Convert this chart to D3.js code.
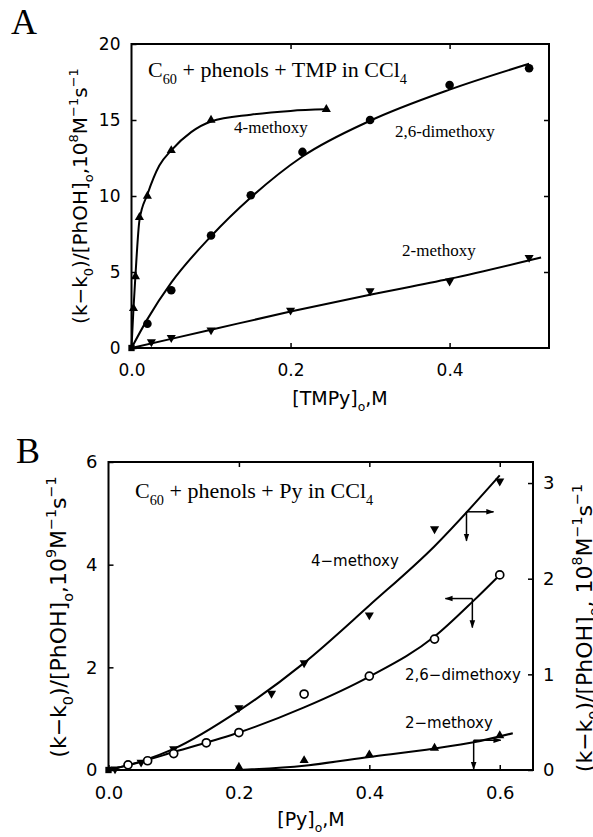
<!DOCTYPE html>
<html>
<head>
<meta charset="utf-8">
<title>C60 + phenols</title>
<script src="https://d3js.org/d3.v7.min.js"></script>
<style>
  body { margin: 0; background: #fff; }
  .tick text { font-family: 'DejaVu Sans', sans-serif; fill: #000; }
  .tick line { stroke: #000; stroke-width: 1.5; }
  .serif { font-family: 'Liberation Serif', 'Times New Roman', serif; }
  .sans { font-family: 'DejaVu Sans', sans-serif; }
</style>
</head>
<body>
<svg width="593" height="837"></svg>
<script>

// ---- panel A data (TMPy) ----
const aXTicks = [0, 0.2, 0.4];
const aYTicks = [0, 5, 10, 15, 20];
const a4Pts  = [[0.0025, 2.6], [0.005, 4.7], [0.01, 8.6], [0.02, 10.0], [0.05, 13.0], [0.1, 15.0], [0.245, 15.7]];
const a4Fit  = [[0, 0], [0.0025, 2.6], [0.005, 4.8], [0.01, 8.4], [0.02, 10.1], [0.035, 12.0], [0.05, 13.0], [0.075, 14.2], [0.1, 14.9], [0.15, 15.35], [0.2, 15.6], [0.245, 15.7]];
const a26Pts = [[0.02, 1.6], [0.05, 3.8], [0.1, 7.4], [0.15, 10.05], [0.215, 12.9], [0.3, 15.0], [0.4, 17.3], [0.5, 18.4]];
const a26Fit = [[0, 0], [0.02, 1.9], [0.05, 4.3], [0.1, 7.35], [0.15, 9.9], [0.215, 12.6], [0.3, 14.95], [0.4, 17.0], [0.5, 18.7]];
const a2Pts  = [[0.025, 0.4], [0.05, 0.68], [0.1, 1.18], [0.2, 2.48], [0.3, 3.75], [0.4, 4.4], [0.5, 5.95]];
const a2Fit  = [[0, 0], [0.1, 1.2], [0.2, 2.4], [0.3, 3.5], [0.4, 4.55], [0.515, 5.95]];

// ---- panel B data (Py) ----
const bXTicks  = [0, 0.2, 0.4, 0.6];
const bYTicks  = [0, 2, 4, 6];
const bYRTicks = [0, 1, 2, 3];
// 4-methoxy and 2-methoxy are read on the right axis, 2,6-dimethoxy on the left one
const b4Pts  = [[0.01, 0.01], [0.05, 0.08], [0.1, 0.22], [0.2, 0.65], [0.25, 0.8], [0.3, 1.12], [0.4, 1.62], [0.5, 2.52], [0.6, 3.02]];
const b4Fit  = [[0, 0], [0.05, 0.09], [0.1, 0.22], [0.2, 0.62], [0.3, 1.12], [0.4, 1.72], [0.5, 2.34], [0.6, 3.08]];
const b26Pts = [[0.03, 0.1], [0.06, 0.18], [0.1, 0.32], [0.15, 0.53], [0.2, 0.73], [0.3, 1.48], [0.4, 1.83], [0.5, 2.55], [0.6, 3.8]];
const b26Fit = [[0, 0], [0.05, 0.16], [0.1, 0.35], [0.2, 0.73], [0.3, 1.22], [0.4, 1.82], [0.5, 2.6], [0.56, 3.3], [0.6, 3.8]];
const b2Pts  = [[0.2, 0.03], [0.3, 0.1], [0.4, 0.16], [0.5, 0.23], [0.6, 0.36]];
const b2Fit  = [[0.2, 0], [0.3, 0.045], [0.4, 0.135], [0.5, 0.225], [0.56, 0.29], [0.62, 0.385]];
// axis-pointer arrows (corner on the curve, left-axis units)
const bArrowX   = [0.549, 0.558, 0.56];
const bArrowY   = [5.03, 3.34, 0.58];
const bArrowDir = ['right', 'left', 'right'];

const origin = [[0, 0]];

var svg = d3.select("svg");
svg.append("rect").attr("width", 593).attr("height", 837).attr("fill", "#fff");

svg.append("defs").append("marker")
    .attr("id", "arr")
    .attr("viewBox", "0 0 10 10")
    .attr("refX", 9).attr("refY", 5)
    .attr("markerWidth", 8).attr("markerHeight", 8)
    .attr("markerUnits", "userSpaceOnUse")
    .attr("orient", "auto")
  .append("path")
    .attr("d", "M0,1.5L10,5L0,8.5Z")
    .attr("fill", "#000");

// text with sub / superscripts: parts = [[string, 'n'|'sub'|'sup'], ...]
function rich(sel, parts, size) {
    var shift = 0;
    parts.forEach(function (p) {
        var t = sel.append("tspan").text(p[0]);
        var target = p[1] === "sub" ? size * 0.3 : p[1] === "sup" ? -size * 0.45 : 0;
        t.attr("dy", target - shift);
        shift = target;
        if (p[1] !== "n") t.style("font-size", (size * 0.65) + "px");
    });
}

function ylabelParts(exp, space) {
    return [["(k−k", "n"], ["0", "sub"], [")/[PhOH]", "n"], ["o", "sub"], [space ? ", 10" : ",10", "n"],
            [exp, "sup"], ["M", "n"], ["−1", "sup"], ["s", "n"], ["−1", "sup"]];
}

function drawMarks(g, pts, x, y, kind) {
    var sel = g.append("g").selectAll("path").data(pts).enter();
    if (kind === "dot" || kind === "ring") {
        sel.append("circle")
            .attr("cx", d => x(d[0]))
            .attr("cy", d => y(d[1]))
            .attr("r", kind === "dot" ? 4.3 : 4)
            .attr("fill", kind === "dot" ? "#000" : "#fff")
            .attr("stroke", "#000")
            .attr("stroke-width", kind === "dot" ? 0 : 1.7);
    } else {
        var type = kind === "sq" ? d3.symbolSquare : d3.symbolTriangle;
        sel.append("path")
            .attr("d", d3.symbol().type(type).size(kind === "sq" ? 40 : 36))
            .attr("transform", d => "translate(" + x(d[0]) + "," + y(d[1]) + ")" + (kind === "itri" ? " rotate(180)" : ""))
            .attr("fill", "#000");
    }
}

function drawFit(g, pts, x, y) {
    var line = d3.line()
        .x(d => x(d[0]))
        .y(d => y(d[1]))
        .curve(d3.curveMonotoneX);
    g.append("path")
        .datum(pts)
        .attr("d", line)
        .attr("fill", "none")
        .attr("stroke", "#000")
        .attr("stroke-width", 2);
}

function frame(g, x, y, xt, yt, fs, yRight) {
    var x0 = x.range()[0], x1 = x.range()[1], y0 = y.range()[0], y1 = y.range()[1];

    g.append("g")
        .attr("transform", "translate(0," + y0 + ")")
        .call(d3.axisBottom(x).tickValues(xt).tickSize(-5).tickPadding(16).tickFormat(d3.format(".1f")))
        .style("font-size", fs + "px")
        .call(a => a.select(".domain").remove());
    g.append("g")
        .attr("transform", "translate(0," + y1 + ")")
        .call(d3.axisTop(x).tickValues(xt.slice(1)).tickSize(-5).tickFormat(""))
        .call(a => a.select(".domain").remove());
    g.append("g")
        .attr("transform", "translate(" + x0 + ",0)")
        .call(d3.axisLeft(y).tickValues(yt).tickSize(-5).tickPadding(11).tickFormat(d3.format("d")))
        .style("font-size", fs + "px")
        .call(a => a.select(".domain").remove());
    if (!yRight) {
        g.append("g")
            .attr("transform", "translate(" + x1 + ",0)")
            .call(d3.axisRight(y).tickValues(yt.slice(1, -1)).tickSize(-5).tickFormat(""))
            .call(a => a.select(".domain").remove());
    }

    g.append("rect")
        .attr("x", x0).attr("y", y1)
        .attr("width", x1 - x0).attr("height", y0 - y1)
        .attr("fill", "none")
        .attr("stroke", "#000")
        .attr("stroke-width", 2);
}

// ================= panel A =================
var xA = d3.scaleLinear().domain([0, 0.525]).range([131.5, 549]),
    yA = d3.scaleLinear().domain([0, 20]).range([348, 44]);

var gA = svg.append("g");
frame(gA, xA, yA, aXTicks, aYTicks, 17, false);

drawFit(gA, a4Fit, xA, yA);
drawFit(gA, a26Fit, xA, yA);
drawFit(gA, a2Fit, xA, yA);
drawMarks(gA, a4Pts, xA, yA, "tri");
drawMarks(gA, a26Pts, xA, yA, "dot");
drawMarks(gA, a2Pts, xA, yA, "itri");
drawMarks(gA, origin, xA, yA, "sq");

svg.append("text").attr("class", "serif")
    .attr("x", 11).attr("y", 34)
    .style("font-size", "36px")
    .text("A");

rich(svg.append("text").attr("class", "serif").attr("x", 148).attr("y", 77).style("font-size", "22px"),
     [["C", "n"], ["60", "sub"], [" + phenols + TMP in CCl", "n"], ["4", "sub"]], 22);

svg.append("text").attr("class", "serif").attr("x", 234).attr("y", 133).style("font-size", "17px").text("4-methoxy");
svg.append("text").attr("class", "serif").attr("x", 395).attr("y", 137).style("font-size", "17px").text("2,6-dimethoxy");
svg.append("text").attr("class", "serif").attr("x", 402).attr("y", 256).style("font-size", "17px").text("2-methoxy");

rich(svg.append("text").attr("class", "sans")
        .attr("text-anchor", "middle")
        .attr("transform", "translate(87,196) rotate(-90)")
        .style("font-size", "20px"),
     ylabelParts("8", false), 20);

rich(svg.append("text").attr("class", "sans")
        .attr("text-anchor", "middle")
        .attr("x", 340).attr("y", 405)
        .style("font-size", "19px"),
     [["[TMPy]", "n"], ["o", "sub"], [",M", "n"]], 19);

// ================= panel B =================
var xB  = d3.scaleLinear().domain([0, 0.651]).range([108.5, 533]),
    yBL = d3.scaleLinear().domain([0, 6]).range([770, 462]),
    yBR = d3.scaleLinear().domain([0, 3.22]).range([770, 462]);

var gB = svg.append("g");
frame(gB, xB, yBL, bXTicks, bYTicks, 18, true);
gB.append("g")
    .attr("transform", "translate(533,0)")
    .call(d3.axisRight(yBR).tickValues(bYRTicks).tickSize(-5).tickPadding(10).tickFormat(d3.format("d")))
    .style("font-size", "18px")
    .call(a => a.select(".domain").remove());

drawFit(gB, b4Fit, xB, yBR);
drawFit(gB, b26Fit, xB, yBL);
drawFit(gB, b2Fit, xB, yBR);
drawMarks(gB, b4Pts, xB, yBR, "itri");
drawMarks(gB, b26Pts, xB, yBL, "ring");
drawMarks(gB, b2Pts, xB, yBR, "tri");
drawMarks(gB, origin, xB, yBL, "sq");

// arrows telling which axis each curve belongs to
bArrowX.forEach(function (ax, i) {
    var cx = xB(ax), cy = yBL(bArrowY[i]);
    var hx = bArrowDir[i] === "right" ? cx + 27 : cx - 27;
    gB.append("line")
        .attr("x1", cx).attr("y1", cy).attr("x2", hx).attr("y2", cy)
        .attr("stroke", "#000").attr("stroke-width", 1.5)
        .attr("marker-end", "url(#arr)");
    gB.append("line")
        .attr("x1", cx).attr("y1", cy).attr("x2", cx).attr("y2", cy + 29)
        .attr("stroke", "#000").attr("stroke-width", 1.5)
        .attr("marker-end", "url(#arr)");
});

svg.append("text").attr("class", "serif")
    .attr("x", 16).attr("y", 463)
    .style("font-size", "36px")
    .text("B");

rich(svg.append("text").attr("class", "serif").attr("x", 135).attr("y", 498).style("font-size", "22px"),
     [["C", "n"], ["60", "sub"], [" + phenols + Py in CCl", "n"], ["4", "sub"]], 22);

svg.append("text").attr("class", "sans").attr("x", 311).attr("y", 566).style("font-size", "15px").text("4−methoxy");
svg.append("text").attr("class", "sans").attr("x", 405).attr("y", 680).style("font-size", "15px").text("2,6−dimethoxy");
svg.append("text").attr("class", "sans").attr("x", 405).attr("y", 728).style("font-size", "15px").text("2−methoxy");

rich(svg.append("text").attr("class", "sans")
        .attr("text-anchor", "middle")
        .attr("transform", "translate(66,617) rotate(-90)")
        .style("font-size", "22px"),
     ylabelParts("9", false), 22);

rich(svg.append("text").attr("class", "sans")
        .attr("text-anchor", "middle")
        .attr("transform", "translate(592,628) rotate(-90)")
        .style("font-size", "22px"),
     ylabelParts("8", true), 22);

rich(svg.append("text").attr("class", "sans")
        .attr("text-anchor", "middle")
        .attr("x", 311).attr("y", 826)
        .style("font-size", "19px"),
     [["[Py]", "n"], ["o", "sub"], [",M", "n"]], 19);

</script>
</body>
</html>
